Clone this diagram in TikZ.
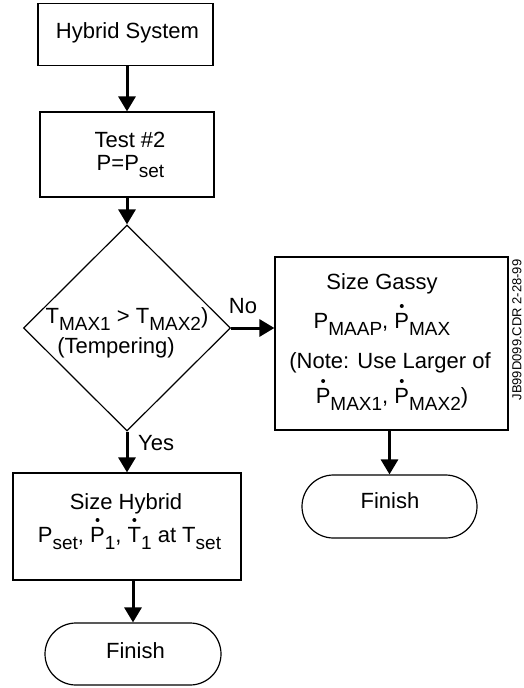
\documentclass[tikz,border=0pt]{standalone}
\usepackage{fontspec}
\setmainfont{Liberation Sans}
\usetikzlibrary{arrows.meta,shapes.geometric,shapes.misc}
\newcommand\sbx[1]{\raisebox{-7pt}{\fontsize{19}{19}\selectfont #1}}
\newcommand\dotov[1]{\ooalign{#1\cr\hidewidth\smash{\raisebox{20pt}{\tikz\fill (0,0) circle[radius=2pt];}}\hidewidth\cr}}
\tikzset{
  box/.style={draw, line width=1.2pt, rectangle, inner sep=0pt},
  capsule/.style={draw, line width=1.2pt, rounded rectangle, inner sep=0pt},
  dia/.style={draw, line width=1.2pt, diamond, inner sep=0pt},
  txt/.style={anchor=base, inner sep=0pt, font=\fontsize{22}{22}\selectfont},
  arr/.style={line width=3pt, -{Triangle[length=15pt,width=17pt]}},
}
\begin{document}
\begin{tikzpicture}[x=1pt,y=-1pt]
\useasboundingbox (0,0) rectangle (524,688);
% boxes
\node[box, minimum width=175pt, minimum height=62pt] (hs) at (125.5,34.5) {};
\node[box, minimum width=174pt, minimum height=85pt] (t2) at (127,154.5) {};
\node[dia, minimum width=207pt, minimum height=206pt] (d) at (127,328) {};
\node[box, minimum width=228pt, minimum height=107pt] (hyb) at (127,526.5) {};
\node[capsule, minimum width=176pt, minimum height=62pt] (f1) at (133,654) {};
\node[box, minimum width=233pt, minimum height=173pt] (gas) at (391.5,343.5) {};
\node[capsule, minimum width=175pt, minimum height=63pt] (f2) at (389.5,506.5) {};
% texts
\node[txt] (hst) at (127.5,38) {Hybrid System};
\node[txt] (t2a) at (130,147) {Test \#2};
\node[txt] (t2b) at (130.5,170) {P=P\sbx{set}};
\node[txt] (da) at (127,323) {T\sbx{MAX1} > T\sbx{MAX2})};
\node[txt] (db) at (116,353) {(Tempering)};
\node[txt] (ha) at (126,509) {Size Hybrid};
\node[txt] (hb) at (129.5,542) {P\sbx{set}, \dotov{P}\sbx{1}, \dotov{T}\sbx{1} at T\sbx{set}};
\node[txt] (f1t) at (135.5,658) {Finish};
\node[txt] (ga) at (382,289) {Size Gassy};
\node[txt] (gb) at (382,328) {P\sbx{MAAP}, \dotov{P}\sbx{MAX}};
\node[txt] (gc) at (390,368) {(Note: Use Larger of};
\node[txt] (gd) at (392,403) {\dotov{P}\sbx{MAX1}, \dotov{P}\sbx{MAX2})};
\node[txt] (f2t) at (390,508) {Finish};
\node[txt] (no) at (243,313) {No};
\node[txt, anchor=base west] (yes) at (138,450) {Yes};
\node[rotate=90, inner sep=0pt, font=\fontsize{13}{13}\selectfont] (id) at (517,330) {JB99D099.CDR 2-28-99};
% connectors
\draw[arr] (hs.south -| t2.north) -- (t2.north);
\draw[arr] (t2.south -| d.north) -- (d.north);
\draw[arr] (d.south) -- (d.south |- hyb.north);
\draw[arr] (hyb.south -| f1.north) -- (f1.north);
\draw[arr] (d.east) -- (d.east -| gas.west);
\draw[arr] (gas.south -| f2.north) -- (f2.north);
\end{tikzpicture}
\end{document}
